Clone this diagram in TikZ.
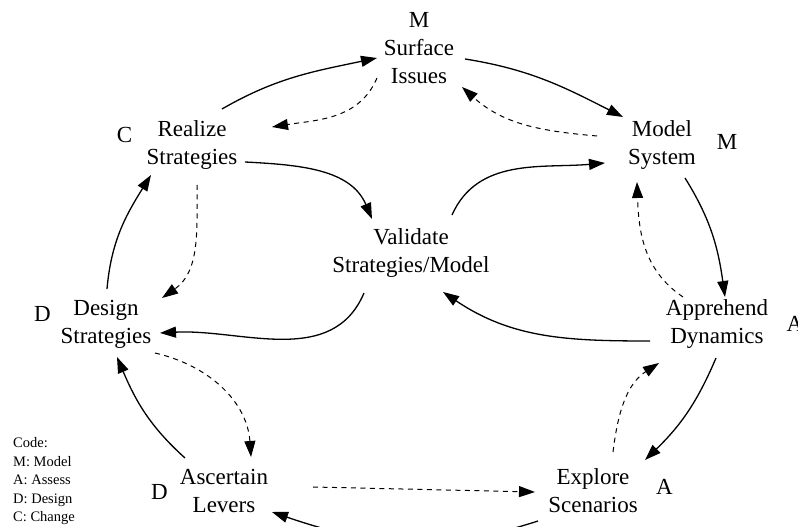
\documentclass[tikz,border=0pt]{standalone}
\usepackage{fontspec}
\setmainfont{Liberation Serif}
\usetikzlibrary{arrows.meta}
\newcommand\twoline[2]{\strut #1\\\strut #2}
\begin{document}
\begin{tikzpicture}[x=1pt,y=1pt,
  stage/.style={inner sep=0pt, align=center, font=\fontsize{23}{28}\selectfont},
  tag/.style={inner sep=0pt, anchor=base, font=\fontsize{23}{28}\selectfont},
  legend/.style={inner sep=0pt, anchor=base west, font=\fontsize{14.5}{18.5}\selectfont},
  flow/.style={line width=1.3pt, -{Triangle[length=16pt,width=11pt]}},
  hint/.style={line width=1pt, dash pattern=on 5pt off 4.5pt, -{Triangle[length=16pt,width=11pt]}},
]
\useasboundingbox (0,0) rectangle (798,527);

% stages of the cycle
\node[stage] (si) at (419,463) {\twoline{Surface}{Issues}};
\node[stage] (ms) at (662,382) {\twoline{Model}{System}};
\node[stage] (rs) at (192,382) {\twoline{Realize}{Strategies}};
\node[stage] (ds) at (106,203) {\twoline{Design}{Strategies}};
\node[stage] (vs) at (411,274) {\twoline{Validate}{Strategies/Model}};
\node[stage] (ad) at (717,203) {\twoline{Apprehend}{Dynamics}};
\node[stage] (al) at (224,34)  {\twoline{Ascertain}{Levers}};
\node[stage] (es) at (593,34)  {\twoline{Explore}{Scenarios}};

% phase letters
\node[tag] (tsi) at (419,499) {M};
\node[tag] (tms) at (727,377) {M};
\node[tag] (trs) at (124.5,384) {C};
\node[tag] (tds) at (42.5,205) {D};
\node[tag] (tad) at (795,195) {A};
\node[tag] (tal) at (159.5,27) {D};
\node[tag] (tes) at (664.5,32) {A};

% legend
\node[legend] (lg1) at (13,79)   {Code:};
\node[legend] (lg2) at (13,60.5) {M: Model};
\node[legend] (lg3) at (13,42)   {A: Assess};
\node[legend] (lg4) at (13,23.5) {D: Design};
\node[legend] (lg5) at (13,5)    {C: Change};

% main flows
\draw[flow] ([shift={(30,36)}]rs.center)   to[out=30,in=192]  ([shift={(-42,6)}]si.center);
\draw[flow] ([shift={(46,5)}]si.center)    to[out=-9,in=153]  ([shift={(-39,28)}]ms.center);
\draw[flow] ([shift={(23,-33)}]ms.center)  to[out=-58,in=98]  ([shift={(8,27)}]ad.center);
\draw[flow] ([shift={(-1,-34)}]ad.center)  to[out=247,in=44]  ([shift={(52,33)}]es.center);
\draw[flow] ([shift={(-55,-28)}]es.center) to[out=198,in=341] ([shift={(48,-19)}]al.center);
\draw[flow] ([shift={(-39,35)}]al.center)  to[out=138,in=293] ([shift={(11,-33)}]ds.center);
\draw[flow] ([shift={(1,35)}]ds.center)    to[out=85,in=238]  ([shift={(-41,-30)}]rs.center);
\draw[flow] ([shift={(53,-17)}]rs.center)  to[out=-3,in=113]  ([shift={(-39,34)}]vs.center);
\draw[flow] ([shift={(41,38)}]vs.center)   to[out=66,in=185]  ([shift={(-57,-18)}]ms.center);
\draw[flow] ([shift={(-47,-40)}]vs.center) to[out=247,in=3]   ([shift={(54,-9)}]ds.center);
\draw[flow] ([shift={(-67,-17)}]ad.center) to[out=180,in=326] ([shift={(32,-39)}]vs.center);

% feedback flows
\draw[hint] ([shift={(-42,-14)}]si.center) to[out=247,in=9]   ([shift={(80,18)}]rs.center);
\draw[hint] ([shift={(-65,9)}]ms.center)   to[out=175,in=318] ([shift={(43,-23)}]si.center);
\draw[hint] ([shift={(-34,27)}]ad.center)  to[out=146,in=272] ([shift={(-25,-37)}]ms.center);
\draw[hint] ([shift={(20,41)}]es.center)   to[out=83,in=213]  ([shift={(-58,-39)}]ad.center);
\draw[hint] ([shift={(89,6)}]al.center)    --                 ([shift={(-58,1)}]es.center);
\draw[hint] ([shift={(49,-29)}]ds.center)  to[out=-13,in=94]  ([shift={(27,36)}]al.center);
\draw[hint] ([shift={(5,-40)}]rs.center)   to[out=270,in=35]  ([shift={(56,26)}]ds.center);
\end{tikzpicture}
\end{document}
